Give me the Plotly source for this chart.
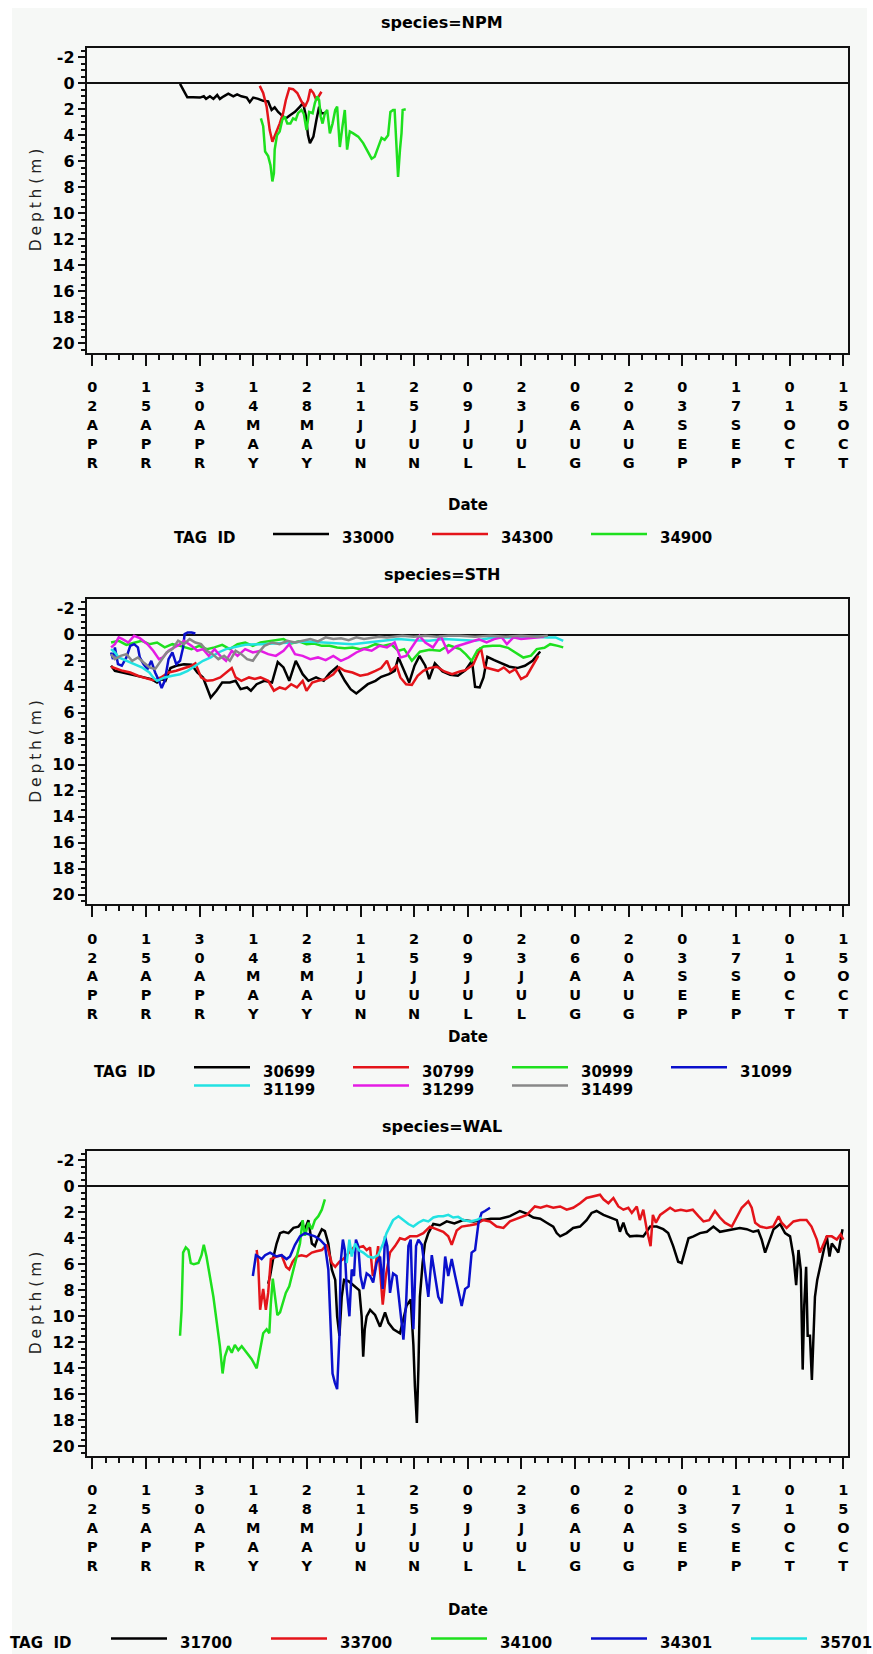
import pandas as pd
import plotly.graph_objects as go
from plotly.subplots import make_subplots

# ---------------- data ----------------
BASE_DATE = "2001-04-02"
TICK_LABELS = ["02APR", "15APR", "30APR", "14MAY", "28MAY", "11JUN", "25JUN", "09JUL",
               "23JUL", "06AUG", "20AUG", "03SEP", "17SEP", "01OCT", "15OCT"]
TICK_STEP_DAYS = 14
Y_TICKS = list(range(-2, 21, 2))
SPECIES = ["NPM", "STH", "WAL"]

# each series: (days since 02APR, depth in m)
NPM_33000 = [(22.9, 0.05), (23.7, 0.5), (24.8, 1.08), (26.3, 1.08), (28.1, 1.1), (29.1, 1.0), (29.7, 1.2),
             (30.7, 1.0), (31.6, 1.2), (32.6, 0.9), (33.3, 1.2), (34.3, 1.0), (35.5, 0.8), (36.8, 1.0),
             (37.8, 0.85), (38.9, 1.0), (40.3, 1.1), (41.1, 1.45), (42.0, 1.1), (43.3, 1.2), (44.6, 1.35),
             (45.9, 1.4), (46.8, 2.05), (47.6, 1.85), (48.5, 2.2), (49.4, 2.45), (50.5, 2.7), (51.6, 2.45),
             (52.9, 2.2), (54.2, 1.8), (55.0, 1.5), (55.7, 2.45), (56.3, 4.0), (56.8, 4.6), (57.7, 4.1),
             (58.5, 2.8), (59.2, 1.8), (59.8, 2.3), (60.7, 2.3), (61.0, 2.2)]
NPM_34300 = [(43.7, 0.2), (44.6, 0.75), (45.5, 1.8), (46.3, 3.6), (47.0, 4.5), (47.9, 3.85), (48.9, 3.1),
             (49.8, 2.3), (50.5, 1.3), (51.4, 0.4), (52.4, 0.45), (53.5, 0.75), (54.6, 1.4), (55.5, 1.8),
             (56.3, 1.3), (56.9, 0.45), (57.7, 0.75), (58.5, 1.3), (59.2, 0.9), (59.8, 0.65)]
NPM_34900 = [(44.0, 2.7), (44.6, 3.3), (45.1, 5.25), (45.9, 5.6), (46.5, 6.3), (47.0, 7.55), (47.4, 6.9),
             (47.6, 5.1), (48.2, 4.0), (48.9, 3.7), (49.6, 2.8), (50.2, 2.55), (50.9, 3.1), (51.7, 3.1),
             (52.4, 2.7), (53.1, 2.8), (53.7, 2.3), (54.6, 2.05), (55.2, 2.35), (55.9, 3.6), (56.6, 2.2),
             (57.5, 2.3), (58.1, 1.5), (58.7, 1.0), (59.2, 1.3), (59.6, 2.55), (60.1, 3.1), (60.7, 2.3),
             (61.3, 2.05), (62.0, 3.85), (62.7, 3.1), (63.4, 2.05), (63.9, 1.8), (64.6, 4.9), (65.3, 3.3),
             (65.9, 2.05), (66.5, 5.1), (67.2, 3.7), (68.1, 3.85), (69.4, 4.1), (70.7, 4.6), (72.0, 5.25),
             (72.9, 5.8), (73.7, 5.65), (74.6, 4.9), (75.5, 4.2), (76.3, 4.35), (77.2, 4.0), (77.8, 2.2),
             (78.5, 2.05), (78.9, 2.05), (79.4, 5.65), (79.8, 7.2), (80.3, 5.1), (80.7, 3.85), (81.0, 2.05),
             (81.8, 2.0)]

STH_30699 = [(4.9, 2.38), (5.9, 2.77), (7.9, 2.9), (10.4, 3.08), (12.9, 3.28), (15.4, 3.41), (16.9, 3.67),
             (18.1, 3.4), (19.1, 3.54), (20.4, 2.56), (21.9, 2.38), (23.9, 2.26), (25.9, 2.3), (27.4, 2.9),
             (28.9, 3.28), (30.9, 4.82), (32.4, 4.3), (33.9, 3.67), (35.9, 3.67), (37.4, 3.54), (38.7, 4.18),
             (40.4, 4.05), (41.4, 4.3), (42.9, 3.8), (44.9, 3.54), (46.9, 3.67), (48.4, 2.1), (49.9, 2.51),
             (51.4, 3.54), (53.1, 2.0), (54.9, 3.03), (56.4, 3.54), (58.4, 3.28), (60.4, 3.54), (61.9, 2.97),
             (63.9, 2.46), (65.9, 3.54), (67.4, 4.18), (68.9, 4.51), (70.4, 4.18), (71.9, 3.8), (73.9, 3.54),
             (75.4, 3.23), (77.4, 3.03), (78.9, 2.77), (79.9, 1.74), (81.4, 2.72), (82.7, 3.67), (84.1, 2.38),
             (85.4, 1.62), (86.9, 2.38), (87.9, 3.41), (89.4, 2.2), (91.4, 2.82), (93.4, 3.08), (95.4, 3.15),
             (97.4, 2.72), (99.1, 2.0), (99.9, 4.0), (101.1, 4.05), (102.1, 3.28), (103.1, 1.69), (104.9, 1.95),
             (106.9, 2.2), (108.9, 2.46), (110.9, 2.56), (112.9, 2.38), (114.9, 2.0), (116.9, 1.28)]
STH_30799 = [(4.9, 2.46), (5.9, 2.56), (7.9, 2.77), (9.9, 2.9), (11.9, 3.15), (13.9, 3.33), (15.9, 3.5),
             (17.9, 3.28), (19.9, 2.9), (21.9, 2.77), (23.9, 2.56), (25.9, 2.38), (26.9, 2.2), (28.4, 3.28),
             (29.9, 3.54), (31.4, 3.5), (33.4, 3.28), (35.4, 2.77), (36.4, 2.56), (37.4, 3.28), (38.9, 3.54),
             (40.9, 3.28), (42.4, 3.4), (43.9, 3.28), (45.9, 3.54), (47.4, 4.3), (48.9, 4.05), (50.4, 4.18),
             (51.9, 3.8), (53.4, 4.05), (54.9, 3.54), (55.9, 4.3), (57.4, 3.67), (58.9, 3.54), (60.9, 3.41),
             (62.9, 3.03), (64.4, 2.51), (65.9, 2.77), (67.9, 2.9), (69.9, 3.15), (71.9, 3.03), (73.9, 2.77),
             (75.4, 2.56), (76.9, 2.0), (77.9, 2.77), (79.4, 2.38), (80.4, 3.28), (81.9, 3.8), (83.4, 3.85),
             (84.9, 3.15), (86.4, 2.77), (87.9, 2.56), (89.9, 2.46), (91.9, 2.82), (93.9, 3.03), (95.9, 2.82),
             (97.4, 2.72), (99.4, 2.3), (101.4, 0.97), (102.4, 2.5), (103.9, 2.64), (105.9, 2.77), (107.4, 2.51),
             (108.9, 2.9), (110.4, 2.64), (111.9, 3.41), (113.4, 3.15), (114.9, 2.38), (116.4, 1.62)]
STH_30999 = [(4.9, 0.59), (6.9, 0.46), (8.9, 0.77), (10.9, 0.59), (12.9, 0.46), (14.9, 0.72), (16.9, 0.59),
             (18.9, 0.97), (20.9, 0.72), (22.9, 0.85), (25.9, 1.1), (27.9, 0.85), (29.9, 1.1), (31.9, 0.97),
             (33.9, 0.77), (35.9, 1.1), (37.9, 0.72), (39.9, 0.59), (41.9, 0.85), (43.9, 0.59), (45.9, 0.51),
             (47.9, 0.46), (49.9, 0.33), (51.9, 0.67), (53.9, 0.51), (55.9, 0.72), (57.9, 0.67), (59.9, 0.85),
             (61.9, 0.85), (63.9, 0.97), (65.9, 1.03), (67.9, 0.97), (69.9, 1.1), (71.9, 0.97), (73.9, 0.72),
             (75.9, 0.85), (77.9, 0.72), (79.9, 1.23), (81.4, 1.1), (83.4, 2.0), (85.5, 1.3), (88.0, 1.15),
             (90.7, 1.23), (93.0, 0.8), (96.0, 1.1), (97.5, 1.5), (99.0, 2.0), (100.5, 1.2), (102.1, 0.9),
             (104.5, 0.85), (106.4, 0.85), (108.5, 1.0), (110.3, 1.36), (112.5, 1.75), (114.5, 1.6),
             (116.0, 1.1), (118.0, 1.0), (119.5, 0.72), (121.5, 0.85), (122.9, 0.97)]
STH_31099 = [(4.9, 1.36), (5.4, 1.87), (5.9, 0.97), (6.7, 2.26), (7.7, 2.38), (8.9, 1.74), (9.9, 0.85),
             (10.9, 0.72), (11.9, 0.97), (12.4, 1.74), (13.4, 2.26), (14.4, 2.64), (15.4, 2.0), (16.4, 2.9),
             (17.4, 3.54), (18.1, 4.1), (18.9, 3.54), (19.9, 1.87), (20.9, 1.36), (21.9, 2.26), (22.9, 2.0),
             (23.7, 0.97), (24.1, -0.05), (24.9, -0.18), (25.9, -0.18), (26.9, -0.1)]
STH_31199 = [(4.9, 1.1), (5.9, 1.36), (6.9, 1.74), (8.9, 2.0), (10.9, 2.26), (12.9, 2.5), (14.9, 2.9),
             (15.9, 3.28), (16.9, 3.54), (18.9, 3.28), (20.9, 3.15), (22.9, 3.03), (24.9, 2.77), (26.9, 2.38),
             (28.9, 2.0), (30.9, 1.74), (32.9, 1.36), (34.9, 1.1), (36.9, 0.97), (39.9, 0.77), (43.9, 0.72),
             (47.9, 0.67), (51.9, 0.59), (55.9, 0.51), (59.9, 0.59), (63.9, 0.67), (67.9, 0.72), (71.9, 0.59),
             (75.9, 0.46), (79.9, 0.33), (83.9, 0.41), (87.9, 0.46), (91.9, 0.33), (95.9, 0.41), (99.9, 0.46),
             (103.9, 0.25), (107.9, 0.2), (111.9, 0.25), (115.9, 0.15), (118.9, 0.2), (120.9, 0.2),
             (122.9, 0.46)]
STH_31299 = [(4.9, 0.97), (5.9, 0.72), (6.9, 0.2), (7.9, 0.33), (9.4, 0.59), (10.9, 0.08), (12.4, 0.26),
             (14.4, 0.72), (15.9, 1.23), (17.4, 1.87), (18.4, 1.74), (19.9, 1.23), (21.4, 0.97), (22.9, 0.72),
             (23.9, 0.46), (25.9, 0.85), (27.4, 1.23), (28.9, 1.1), (30.4, 1.62), (31.9, 1.1), (33.4, 1.62),
             (34.9, 2.0), (36.4, 1.23), (37.9, 1.62), (39.9, 1.1), (41.9, 1.36), (43.9, 1.23), (45.9, 1.49),
             (47.9, 1.62), (49.9, 1.23), (51.4, 0.72), (52.9, 1.49), (54.9, 1.62), (56.9, 1.87), (58.9, 1.74),
             (60.9, 1.95), (62.9, 1.62), (64.9, 2.0), (66.9, 1.74), (68.9, 1.36), (70.9, 1.1), (72.9, 1.23),
             (74.9, 0.85), (76.9, 0.97), (78.9, 0.59), (80.4, 1.74), (81.9, 1.62), (83.9, 0.72), (85.4, 0.08),
             (86.9, 0.59), (88.9, 0.97), (90.9, 0.08), (92.9, 1.36), (94.9, 0.9), (96.9, 0.72), (98.9, 0.5),
             (100.9, 0.35), (102.9, 0.59), (104.9, 0.33), (106.9, 0.2), (108.2, 0.72), (109.9, 0.2),
             (111.9, 0.33), (113.9, 0.26), (115.9, 0.2), (117.9, 0.15)]
STH_31499 = [(4.9, 1.49), (5.9, 1.87), (7.4, 1.62), (8.9, 1.49), (10.4, 2.0), (11.9, 1.74), (13.4, 2.13),
             (14.9, 2.5), (16.4, 2.64), (17.9, 2.0), (19.4, 1.36), (20.9, 1.1), (22.4, 0.46), (23.9, 0.72),
             (25.4, 0.33), (26.9, 0.59), (28.4, 0.72), (29.9, 1.23), (31.4, 1.49), (32.9, 1.87), (34.4, 1.62),
             (35.9, 2.0), (37.4, 1.23), (38.9, 1.49), (40.4, 1.87), (41.9, 2.0), (43.4, 1.36), (44.9, 0.85),
             (46.9, 0.59), (48.9, 0.72), (50.9, 0.46), (52.9, 0.59), (54.9, 0.46), (56.9, 0.33), (58.9, 0.51),
             (60.9, 0.2), (62.9, 0.33), (64.9, 0.26), (66.9, 0.41), (68.9, 0.2), (70.9, 0.33), (72.9, 0.26),
             (74.9, 0.15), (76.9, 0.2), (78.9, 0.15), (80.9, 0.08), (83.9, 0.15), (86.9, 0.08), (89.9, 0.15),
             (92.9, 0.08), (95.9, 0.08), (99.9, 0.15), (103.9, 0.08), (107.9, 0.15), (111.9, 0.08),
             (115.9, 0.15), (118.9, 0.08)]

WAL_31700 = [(45.9, 7.5), (46.4, 6.9), (47.3, 5.4), (48.1, 4.4), (49.0, 3.6), (49.9, 3.5), (51.2, 3.6),
             (52.5, 3.2), (53.8, 3.1), (54.6, 2.8), (55.5, 3.3), (56.4, 2.6), (57.3, 4.4), (58.1, 4.6),
             (59.0, 3.85), (59.9, 3.3), (60.7, 3.45), (61.6, 4.4), (62.5, 6.4), (63.4, 7.2), (63.9, 10.0),
             (64.5, 11.5), (65.1, 8.5), (65.7, 7.2), (66.9, 7.3), (67.7, 7.5), (68.6, 7.7), (69.7, 8.0),
             (70.3, 10.0), (70.7, 13.1), (71.1, 11.0), (71.6, 10.0), (72.5, 9.5), (73.8, 9.9), (75.1, 10.8),
             (76.4, 9.7), (77.3, 10.5), (78.6, 11.0), (80.3, 11.3), (81.2, 10.3), (82.0, 9.2), (83.1, 8.7),
             (83.8, 12.2), (84.2, 15.4), (84.7, 18.2), (85.1, 14.1), (85.5, 8.5), (86.2, 5.9), (86.8, 4.4),
             (87.7, 3.6), (89.0, 2.9), (90.7, 3.0), (92.5, 2.7), (94.5, 2.85), (96.8, 2.6), (99.5, 2.7),
             (102.1, 2.6), (104.0, 2.5), (106.4, 2.5), (109.0, 2.3), (111.6, 1.9), (113.4, 2.1), (115.1, 2.4),
             (116.9, 2.5), (118.6, 2.8), (120.3, 3.1), (121.2, 3.6), (122.1, 3.85), (123.8, 3.6), (125.5, 3.2),
             (127.3, 3.1), (129.0, 2.6), (130.3, 2.05), (131.6, 1.9), (133.4, 2.2), (135.1, 2.4), (136.9, 2.6),
             (137.7, 3.5), (138.6, 2.8), (139.5, 3.6), (140.3, 3.85), (142.1, 3.8), (143.8, 3.85),
             (145.6, 3.1), (147.3, 3.1), (149.0, 3.3), (150.3, 3.6), (151.6, 4.6), (152.9, 5.8), (153.8, 5.9),
             (154.7, 4.9), (155.6, 4.0), (156.9, 3.85), (158.6, 3.6), (160.4, 3.5), (162.1, 3.1), (163.8, 3.5),
             (165.6, 3.4), (167.3, 3.3), (169.0, 3.2), (170.8, 3.3), (172.5, 3.5), (173.8, 3.4), (174.7, 4.1),
             (175.6, 5.1), (176.4, 4.4), (177.8, 3.3), (179.5, 2.9), (180.8, 3.6), (182.1, 3.85), (183.0, 5.4),
             (183.7, 7.6), (184.3, 4.9), (184.9, 6.4), (185.4, 14.1), (185.8, 9.2), (186.3, 6.2), (186.7, 11.5),
             (187.3, 11.5), (187.8, 14.9), (188.2, 12.1), (188.6, 8.5), (189.2, 7.2), (189.9, 6.2),
             (190.8, 5.1), (191.7, 3.85), (192.4, 5.4), (193.0, 4.4), (193.8, 4.7), (194.7, 5.1), (195.3, 4.1),
             (195.8, 3.3)]
WAL_33700 = [(42.9, 4.9), (43.3, 5.9), (43.8, 9.5), (44.6, 7.9), (45.3, 9.5), (45.9, 8.2), (46.6, 5.6),
             (47.3, 5.5), (48.1, 5.4), (49.4, 5.3), (50.6, 6.2), (51.4, 6.4), (52.3, 5.8), (53.3, 5.4),
             (54.6, 5.3), (55.9, 5.4), (57.3, 5.1), (58.5, 5.0), (59.9, 4.9), (61.2, 4.5), (62.5, 5.9),
             (63.4, 6.2), (64.5, 5.8), (65.5, 5.6), (66.9, 5.1), (68.2, 4.7), (69.5, 4.7), (70.7, 4.6),
             (71.6, 4.9), (72.5, 4.7), (73.2, 6.9), (73.8, 6.4), (74.6, 4.6), (75.8, 9.1), (76.6, 6.9),
             (77.7, 5.1), (79.0, 4.6), (80.3, 4.0), (81.6, 4.1), (82.9, 3.85), (84.7, 3.85), (86.4, 3.6),
             (88.1, 3.1), (89.9, 3.3), (91.6, 3.5), (92.9, 3.85), (93.8, 4.5), (95.1, 3.4), (96.4, 3.1),
             (98.6, 3.0), (100.3, 2.9), (101.9, 2.6), (103.8, 2.7), (105.5, 3.1), (107.3, 3.2), (109.0, 2.7),
             (111.6, 2.4), (113.4, 2.2), (115.5, 1.55), (117.0, 1.65), (118.6, 1.5), (120.3, 1.65),
             (122.1, 1.55), (123.8, 1.8), (125.5, 1.65), (127.3, 1.3), (129.0, 0.9), (130.8, 0.8), (132.5, 0.65),
             (133.4, 1.0), (134.7, 1.3), (136.0, 0.9), (137.3, 1.55), (138.6, 1.8), (139.9, 1.65), (140.8, 2.05),
             (142.1, 1.55), (142.9, 2.6), (143.8, 1.8), (144.7, 3.3), (145.4, 4.1), (145.7, 4.6), (146.3, 2.2),
             (147.1, 2.8), (148.2, 2.2), (149.5, 1.9), (150.8, 1.65), (152.1, 1.9), (153.6, 1.8), (155.1, 1.9),
             (156.7, 1.8), (158.2, 2.3), (159.5, 2.7), (161.0, 2.6), (162.5, 1.9), (163.8, 2.4), (165.1, 2.8),
             (166.9, 3.1), (168.2, 2.4), (169.5, 1.65), (171.2, 1.15), (172.1, 1.65), (173.0, 2.8), (174.3, 3.1),
             (176.0, 3.2), (177.7, 3.1), (179.1, 2.3), (179.9, 2.8), (181.2, 3.2), (183.0, 2.7), (184.7, 2.6),
             (186.4, 2.6), (187.7, 3.1), (189.1, 4.1), (189.9, 5.1), (190.8, 4.4), (191.7, 3.85), (193.0, 3.85),
             (194.3, 4.1), (195.3, 3.7), (196.0, 4.1)]
WAL_34100 = [(22.9, 11.5), (23.3, 9.5), (23.7, 5.1), (24.4, 4.7), (25.1, 4.9), (25.7, 5.9), (26.5, 6.0),
             (27.7, 5.9), (28.5, 5.3), (29.1, 4.5), (29.8, 5.4), (30.7, 6.9), (31.6, 8.5), (32.5, 10.5),
             (33.3, 12.3), (34.0, 14.4), (34.6, 13.1), (35.5, 12.3), (36.4, 12.8), (37.2, 12.2), (38.1, 12.6),
             (39.0, 12.3), (40.3, 12.8), (41.6, 13.3), (42.9, 14.0), (43.8, 12.6), (44.6, 11.3), (45.5, 11.0),
             (46.2, 11.3), (46.6, 9.0), (47.1, 7.1), (47.7, 8.5), (48.3, 9.9), (49.0, 9.7), (49.7, 9.0),
             (50.5, 8.2), (51.4, 7.7), (52.3, 6.7), (53.3, 5.6), (54.2, 4.4), (54.9, 2.6), (55.5, 3.8),
             (56.4, 2.8), (57.3, 3.3), (58.1, 2.6), (59.0, 2.3), (59.9, 1.8), (60.7, 1.0)]
WAL_34301 = [(41.9, 6.9), (42.2, 6.2), (42.7, 5.3), (43.3, 5.4), (44.2, 5.6), (45.1, 5.3), (46.4, 5.1),
             (48.1, 5.4), (49.4, 5.3), (50.7, 5.6), (51.6, 5.4), (52.9, 4.5), (54.2, 3.85), (55.5, 3.6),
             (56.8, 3.7), (58.1, 3.85), (59.4, 4.1), (60.7, 4.5), (61.6, 6.4), (62.2, 11.0), (62.7, 14.4),
             (63.3, 15.1), (63.9, 15.6), (64.5, 11.5), (64.8, 5.9), (65.4, 4.1), (65.9, 4.9), (66.4, 7.9),
             (67.1, 10.0), (67.7, 6.4), (68.3, 6.9), (68.8, 4.1), (69.4, 4.6), (70.0, 6.9), (70.7, 7.9),
             (71.6, 6.7), (72.5, 6.9), (73.3, 7.4), (74.2, 5.9), (75.1, 5.4), (75.8, 7.9), (76.4, 3.85),
             (77.0, 4.6), (77.7, 8.2), (78.5, 6.7), (79.4, 6.9), (80.3, 9.5), (81.2, 11.8), (81.9, 9.0),
             (82.5, 4.6), (83.1, 4.1), (83.8, 11.0), (84.5, 4.6), (85.1, 4.1), (86.0, 4.5), (86.8, 6.4),
             (87.7, 8.5), (88.6, 5.3), (89.4, 6.9), (90.3, 8.5), (91.2, 9.0), (92.1, 5.4), (92.9, 6.9),
             (93.8, 5.6), (94.7, 6.9), (95.5, 7.9), (96.4, 9.2), (97.3, 7.9), (98.2, 7.7), (99.0, 5.1),
             (99.9, 4.9), (100.8, 2.8), (101.6, 2.05), (102.5, 1.9), (103.8, 1.65)]
WAL_35701 = [(66.4, 5.9), (67.1, 4.1), (67.7, 5.4), (68.6, 4.4), (69.5, 4.9), (70.7, 5.1), (72.0, 5.4),
             (73.3, 5.5), (74.6, 5.3), (75.9, 4.4), (76.8, 3.6), (77.7, 3.1), (78.5, 2.6), (79.9, 2.3),
             (81.2, 2.6), (82.5, 2.9), (83.8, 3.1), (85.1, 2.8), (86.4, 2.6), (87.7, 2.7), (89.0, 2.4),
             (90.3, 2.3), (91.6, 2.3), (92.9, 2.2), (94.2, 2.4), (95.5, 2.35), (96.8, 2.6), (98.6, 2.7),
             (100.3, 2.6), (101.6, 2.4)]

PANEL_SERIES = {
    "NPM": [("33000", NPM_33000), ("34300", NPM_34300), ("34900", NPM_34900)],
    "STH": [("30699", STH_30699), ("30799", STH_30799), ("30999", STH_30999), ("31099", STH_31099),
            ("31199", STH_31199), ("31299", STH_31299), ("31499", STH_31499)],
    "WAL": [("31700", WAL_31700), ("33700", WAL_33700), ("34100", WAL_34100), ("34301", WAL_34301),
            ("35701", WAL_35701)],
}

# ---------------- style ----------------
PALETTE = ["#000000", "#E4141A", "#1EE01E", "#0A10CC", "#22E2E2", "#E41CE4", "#888888"]
BG = "#F6F8F6"
FONT = "DejaVu Sans"
W, H = 873, 1654
PLOT_X0, PLOT_X1 = 86.8, 848.3
TICK_FIRST_PX, TICK_LAST_PX = 92.3, 843.3
PANEL_TOPS = [47.8, 599.3, 1150.8]
PANEL_H = 305.0
ZERO_OFF, PX_PER_M = 35.5, 13.0
TITLE_Y = [23, 574.5, 1126]
DATE_Y = [505, 1036.7, 1609.5]
LEGEND = [  # tag-label x, text rows y, first sample x, pitch, columns
    dict(lx=171.7, rows=[538.5], x0=273, pitch=159, ncol=3),
    dict(lx=91.7, rows=[1071.7, 1090.0], x0=194, pitch=159, ncol=4),
    dict(lx=8.4, rows=[1643.0], x0=111, pitch=160, ncol=5),
]
GAP = "\u2005"
DEPTH_LABEL = GAP.join("Depth") + " " + GAP.join("(m)")

base = pd.Timestamp(BASE_DATE)
span_days = TICK_STEP_DAYS * (len(TICK_LABELS) - 1)
ppd = (TICK_LAST_PX - TICK_FIRST_PX) / span_days
x_range = [base + pd.Timedelta(days=-(TICK_FIRST_PX - PLOT_X0) / ppd),
           base + pd.Timedelta(days=span_days + (PLOT_X1 - TICK_LAST_PX) / ppd)]
y_range = [(PANEL_H - ZERO_OFF) / PX_PER_M, -ZERO_OFF / PX_PER_M]
tickvals = [base + pd.Timedelta(days=TICK_STEP_DAYS * i) for i in range(len(TICK_LABELS))]
ticktext = ["<br>".join(list(t)) for t in TICK_LABELS]


def px(x):
    return x / W


def py(y):
    return 1 - y / H


fig = make_subplots(rows=3, cols=1)

annotations = []
shapes = [dict(type="rect", xref="paper", yref="paper", x0=px(12), x1=px(867), y0=0, y1=py(8),
               fillcolor=BG, line=dict(width=0), layer="below")]

for i, sp in enumerate(SPECIES):
    row = i + 1
    for j, (tag, pts) in enumerate(PANEL_SERIES[sp]):
        days = [p[0] for p in pts]
        depth = [p[1] for p in pts]
        dates = base + pd.to_timedelta(days, unit="D")
        fig.add_trace(go.Scatter(x=dates, y=depth, mode="lines", name=tag, showlegend=False,
                                 line=dict(color=PALETTE[j], width=2.5)), row=row, col=1)

    top = PANEL_TOPS[i]
    xa = "xaxis" if i == 0 else f"xaxis{row}"
    ya = "yaxis" if i == 0 else f"yaxis{row}"
    fig.layout[xa].update(
        domain=[px(PLOT_X0), px(PLOT_X1)], range=x_range, type="date",
        tickmode="array", tickvals=tickvals, ticktext=ticktext,
        ticks="outside", ticklen=11, tickwidth=2, tickcolor="#111",
        minor=dict(ticks="outside", ticklen=5, tickwidth=1.5, tickcolor="#111",
                   tick0=base, dtick=TICK_STEP_DAYS / 4 * 86400000),
        showline=True, linecolor="#111", linewidth=2, mirror=True, showgrid=False, zeroline=False,
        tickfont=dict(family=FONT, size=14.5, color="black", weight="bold"), tickangle=0,
        ticklabelstandoff=9,
    )
    fig.layout[ya].update(
        domain=[py(top + PANEL_H), py(top)], range=y_range,
        tickmode="array", tickvals=Y_TICKS, ticktext=[str(v) for v in Y_TICKS],
        ticks="outside", ticklen=7, tickwidth=2, tickcolor="#111",
        minor=dict(ticks="outside", ticklen=4, tickwidth=1.5, tickcolor="#111", tick0=0, dtick=0.5),
        showline=True, linecolor="#111", linewidth=2, mirror=True, showgrid=False,
        zeroline=True, zerolinecolor="#111", zerolinewidth=1.5,
        tickfont=dict(family=FONT, size=16, color="black", weight="bold"),
    )

    annotations.append(dict(text=f"species={sp}", x=px(442), y=py(TITLE_Y[i]), xref="paper", yref="paper",
                            showarrow=False, xanchor="center", yanchor="middle",
                            font=dict(family=FONT, size=16, color="black", weight="bold")))
    annotations.append(dict(text=DEPTH_LABEL, x=px(36), y=py(top + PANEL_H / 2), xref="paper",
                            yref="paper", showarrow=False, textangle=-90, xanchor="center", yanchor="middle",
                            font=dict(family=FONT, size=15.5, color="#222")))
    annotations.append(dict(text="Date", x=px((PLOT_X0 + PLOT_X1) / 2), y=py(DATE_Y[i]), xref="paper",
                            yref="paper", showarrow=False, xanchor="center", yanchor="middle",
                            font=dict(family=FONT, size=15, color="black", weight="bold")))

    lg = LEGEND[i]
    annotations.append(dict(text="TAG\u00a0\u00a0ID", x=px(lg["lx"]), y=py(lg["rows"][0]), xref="paper",
                            yref="paper", showarrow=False, xanchor="left", yanchor="middle",
                            font=dict(family=FONT, size=15, color="black", weight="bold")))
    for j, (tag, _) in enumerate(PANEL_SERIES[sp]):
        r, c = divmod(j, lg["ncol"])
        ty = lg["rows"][r]
        x0 = lg["x0"] + c * lg["pitch"]
        shapes.append(dict(type="line", xref="paper", yref="paper", x0=px(x0), x1=px(x0 + 56),
                           y0=py(ty - 4.5), y1=py(ty - 4.5), line=dict(color=PALETTE[j], width=2.5)))
        annotations.append(dict(text=tag, x=px(x0 + 67), y=py(ty), xref="paper", yref="paper",
                                showarrow=False, xanchor="left", yanchor="middle",
                                font=dict(family=FONT, size=15, color="black", weight="bold")))

fig.update_layout(
    width=W, height=H, margin=dict(l=0, r=0, t=0, b=0, autoexpand=False),
    paper_bgcolor="white", plot_bgcolor=BG, showlegend=False,
    annotations=annotations, shapes=shapes,
    font=dict(family=FONT, color="black"),
)

fig.write_html("out.html")
